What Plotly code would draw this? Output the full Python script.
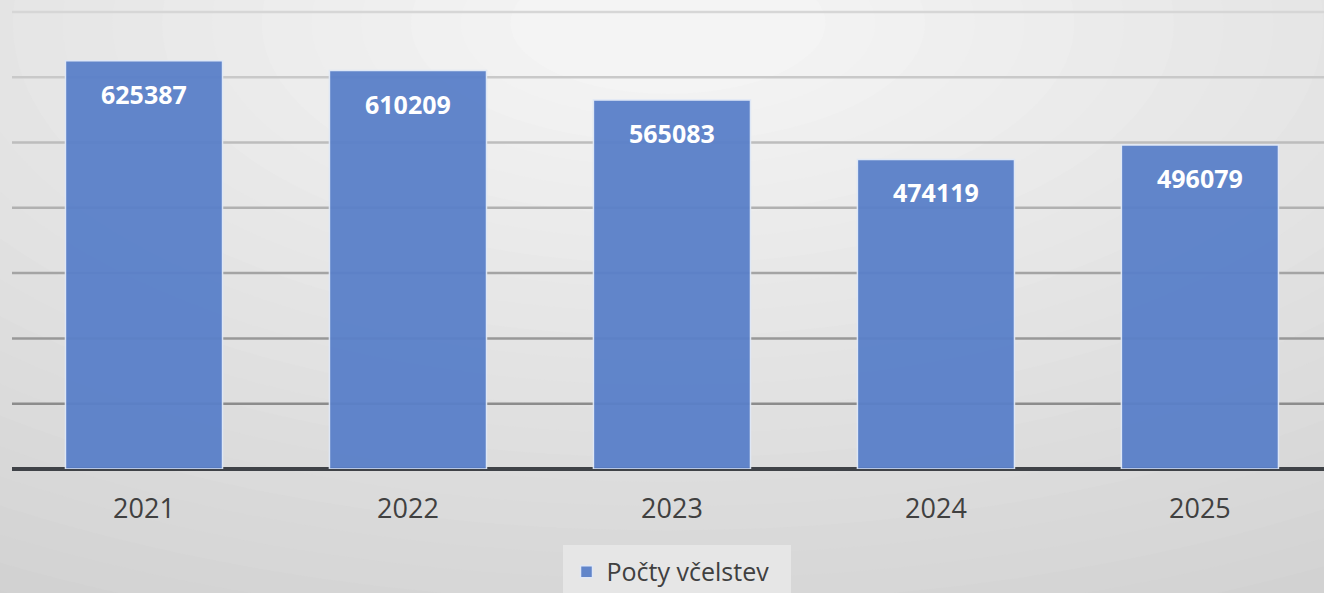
import plotly.graph_objects as go

years = ["2021", "2022", "2023", "2024", "2025"]
values = [625387, 610209, 565083, 474119, 496079]
series_name = "Počty včelstev"
grid_levels = [100000, 200000, 300000, 400000, 500000, 600000, 700000]

BAR = "#5a80c9"
FONT = "Open Sans, DejaVu Sans"
W, H = 1324, 593

fig = go.Figure()
fig.add_trace(go.Bar(
    x=years, y=values, name=series_name,
    marker=dict(color=BAR, line=dict(color="#dfe8f7", width=1.5)),
    opacity=0.95,
    textposition="none",
    hoverinfo="skip",
    showlegend=True,
))

# data labels (category axis: position by category index)
for i, yv in enumerate(values):
    fig.add_annotation(x=i, y=yv, xref="x", yref="y", text=f"<b>{yv}</b>",
                       showarrow=False, yanchor="middle", yshift=-33,
                       font=dict(family=FONT, size=25, color="white"))

shapes = []
# radial-ish background gradient
n = 30
for i in range(n):
    t = i / (n - 1)
    c = int(204 + (244 - 204) * t)
    rx = 1.1 * (1 - t) + 0.12
    ry = 1.5 * (1 - t) + 0.15
    shapes.append(dict(type="circle", xref="paper", yref="paper",
                       x0=0.5 - rx, x1=0.5 + rx, y0=0.95 - ry, y1=0.95 + ry,
                       fillcolor=f"rgb({c},{c},{c})", line=dict(width=0), layer="below"))
# gridlines, darker toward the bottom
for k, g in enumerate(grid_levels):
    t = k / (len(grid_levels) - 1)
    c = int(140 + (214 - 140) * t)
    shapes.append(dict(type="line", xref="paper", yref="y", x0=0, x1=1, y0=g, y1=g,
                       line=dict(color=f"rgb({c},{c},{c})", width=2.5), layer="below"))

fig.update_layout(
    width=W, height=H,
    margin=dict(l=12, r=0, t=0, b=124, autoexpand=False),
    paper_bgcolor="rgb(204,204,204)",
    plot_bgcolor="rgba(0,0,0,0)",
    shapes=shapes,
    bargap=0.405,
    showlegend=True,
    legend=dict(orientation="h", x=0.4196, xanchor="left", y=-0.162, yanchor="top",
                bgcolor="#e6e6e6", bordercolor="#e6e6e6", borderwidth=4,
                font=dict(family=FONT, size=25, color="#404040"),
                itemwidth=30, entrywidth=175),
    xaxis=dict(type="category", range=[-0.5, 4.47], showgrid=False, showline=False,
               ticks="outside", ticklen=16, tickcolor="rgba(0,0,0,0)",
               tickfont=dict(family=FONT, size=27, color="#404040"),
               fixedrange=True, automargin=False),
    yaxis=dict(range=[0, 718300], showgrid=False, showticklabels=False, ticks="",
               zeroline=True, zerolinecolor="#3f4247", zerolinewidth=3.5, fixedrange=True,
               automargin=False),
)

fig.write_html("out.html", config={"displayModeBar": False},
               post_script="document.body.style.margin='0';document.body.style.overflow='hidden';")
